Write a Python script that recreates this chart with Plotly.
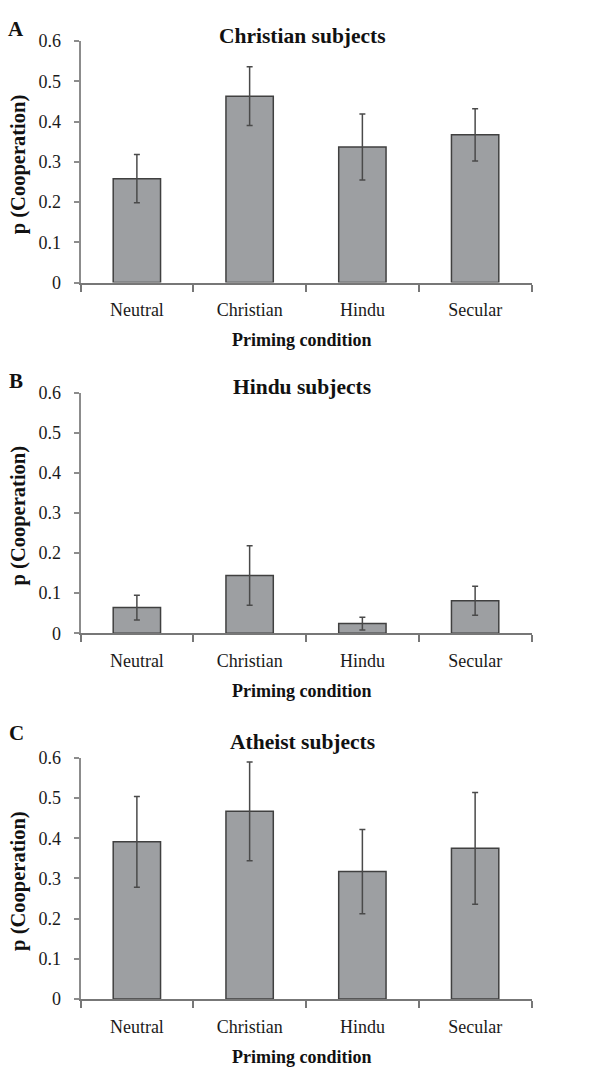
import plotly.graph_objects as go

categories = ["Neutral", "Christian", "Hindu", "Secular"]
panel_letters = ["A", "B", "C"]
panel_titles = ["Christian subjects", "Hindu subjects", "Atheist subjects"]

christian_vals = [0.258, 0.463, 0.337, 0.367]
christian_err = [0.060, 0.073, 0.082, 0.065]
hindu_vals = [0.064, 0.144, 0.024, 0.081]
hindu_err = [0.031, 0.074, 0.016, 0.036]
atheist_vals = [0.391, 0.467, 0.317, 0.375]
atheist_err = [0.113, 0.123, 0.105, 0.139]

y_ticks = [0, 0.1, 0.2, 0.3, 0.4, 0.5, 0.6]
y_ticklabels = ["0", "0.1", "0.2", "0.3", "0.4", "0.5", "0.6"]

W, H = 614, 1078
FONT = "Liberation Serif"
X_AXIS_COLOR = "#777777"
Y_AXIS_COLOR = "#8c8c8c"
BAR_FILL = "#9d9fa2"
BAR_LINE = "#404040"
ERR_COLOR = "#4a4a4a"

# pixel layout of the three panels (top, bottom of plotting area)
panels_px = [(31.7, 277.7), (390.0, 635.0), (762.0, 1007.7)]
x_left, x_right = 80.5, 531.5

def py(px):
    return 1 - px / H

def pxx(px):
    return px / W

series = [(christian_vals, christian_err), (hindu_vals, hindu_err), (atheist_vals, atheist_err)]

fig = go.Figure()
annotations = []
for i, ((vals, errs), (top, bot)) in enumerate(zip(series, panels_px)):
    sfx = "" if i == 0 else str(i + 1)
    fig.add_trace(go.Bar(
        x=categories, y=vals,
        xaxis="x" + sfx, yaxis="y" + sfx,
        marker=dict(color=BAR_FILL, line=dict(color=BAR_LINE, width=1.5)),
        error_y=dict(type="data", array=errs, visible=True, color=ERR_COLOR,
                     thickness=1.5, width=3),
        showlegend=False,
    ))
    fig.update_layout(**{
        "xaxis" + sfx: dict(
            domain=[pxx(x_left), pxx(x_right)], anchor="y" + sfx,
            type="category", showline=True, linecolor=X_AXIS_COLOR, linewidth=2,
            ticks="outside", tickson="boundaries", ticklen=7, tickwidth=1.5,
            tickcolor=X_AXIS_COLOR, showgrid=False, zeroline=False,
            tickfont=dict(family=FONT, size=18, color="#1a1a1a"),
            ticklabelstandoff=10,
        ),
        "yaxis" + sfx: dict(
            domain=[py(bot), py(top)], anchor="x" + sfx,
            range=[0, 0.6], tickvals=y_ticks, ticktext=y_ticklabels,
            showline=True, linecolor=Y_AXIS_COLOR, linewidth=2,
            ticks="outside", ticklen=5, tickwidth=1.5, tickcolor=Y_AXIS_COLOR,
            showgrid=False, zeroline=False,
            tickfont=dict(family=FONT, size=18, color="#1a1a1a"),
            ticklabelstandoff=9,
        ),
    })
    # panel letter
    annotations.append(dict(
        text="<b>%s</b>" % panel_letters[i], x=pxx(16), y=py(top - 12 + (0 if i < 2 else -13)),
        xref="paper", yref="paper", showarrow=False, xanchor="center", yanchor="middle",
        font=dict(family=FONT, size=21, color="#111111"),
    ))
    # title
    title_offsets = [5.5, 6.0, 16.0]
    annotations.append(dict(
        text="<b>%s</b>" % panel_titles[i], x=pxx(302), y=py(top - title_offsets[i]),
        xref="paper", yref="paper", showarrow=False, xanchor="center", yanchor="middle",
        font=dict(family=FONT, size=21.5, color="#111111"),
    ))
    # x axis title
    annotations.append(dict(
        text="<b>Priming condition</b>", x=pxx(301.5), y=py(bot + 59),
        xref="paper", yref="paper", showarrow=False, xanchor="center", yanchor="middle",
        font=dict(family=FONT, size=18, color="#111111"),
    ))
    # y axis title
    annotations.append(dict(
        text="<b>p (Cooperation)</b>", x=pxx(18.5), y=py((top + bot) / 2 + 3),
        xref="paper", yref="paper", showarrow=False, xanchor="center", yanchor="middle",
        textangle=-90, font=dict(family=FONT, size=20.5, color="#111111"),
    ))

fig.update_layout(
    width=W, height=H,
    margin=dict(l=0, r=0, t=0, b=0),
    paper_bgcolor="white", plot_bgcolor="white",
    bargap=0.58,
    annotations=annotations,
    font=dict(family=FONT),
)

fig.write_html(
    "out.html",
    config={"displayModeBar": False},
    post_script="document.body.style.margin='0';document.body.style.overflow='hidden';",
)
